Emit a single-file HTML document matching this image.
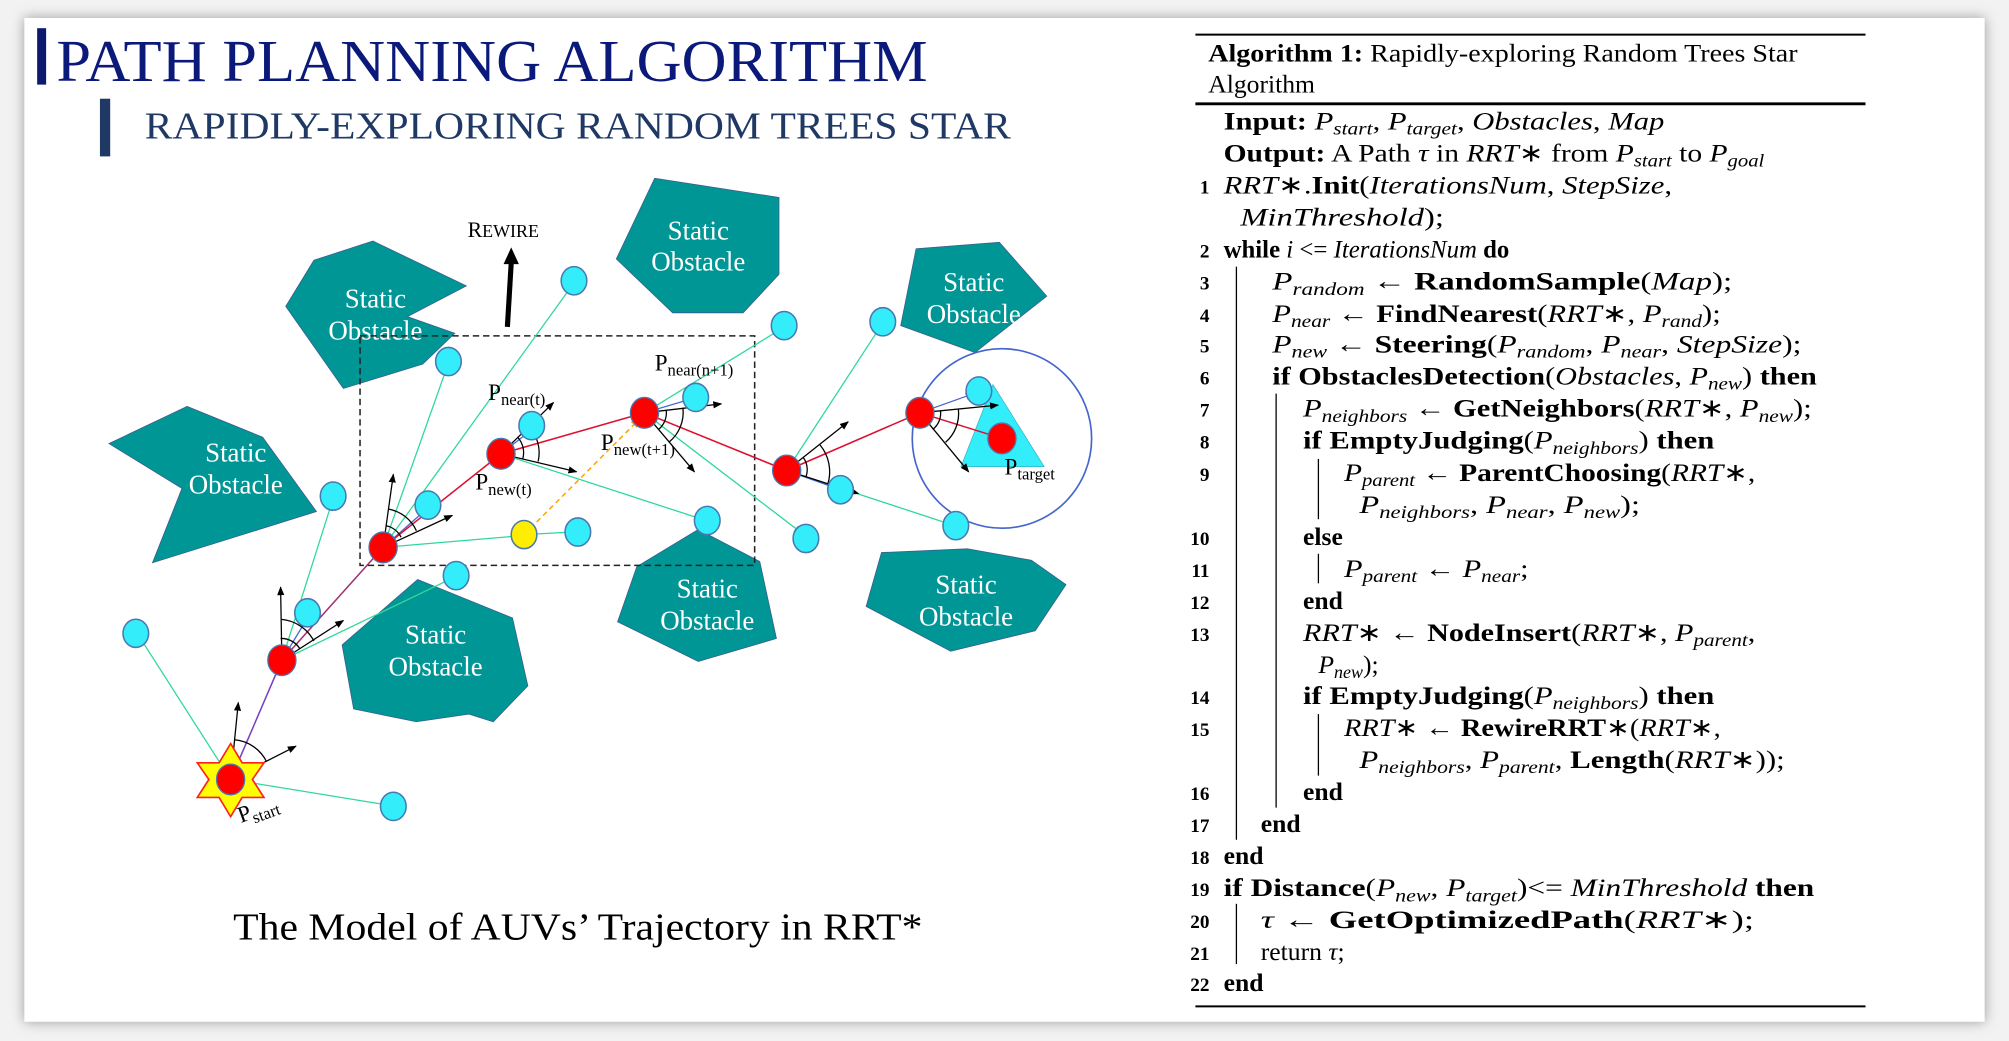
<!DOCTYPE html>
<html><head><meta charset="utf-8"><style>
html,body{margin:0;padding:0;background:#fff;}
svg{display:block;}
.t{font-family:"Liberation Serif",serif;}
.ob{font-family:"Liberation Serif",serif;fill:#fff;font-size:21px;text-anchor:middle;}
.alg{font-family:"Liberation Serif",serif;font-size:20px;fill:#000;}
.b{font-weight:bold;}
.i{font-style:italic;}
.n{font-weight:bold;font-size:15px;}
</style></head><body>
<svg width="2009" height="1041" viewBox="0 0 1568 812" preserveAspectRatio="none" xmlns="http://www.w3.org/2000/svg">
<defs>
<filter id="sh" x="-5%" y="-5%" width="110%" height="110%"><feGaussianBlur stdDeviation="5"/></filter>
<marker id="ag" viewBox="0 0 10 10" refX="9" refY="5" markerWidth="7" markerHeight="7" orient="auto"><path d="M0,1 L10,5 L0,9z" fill="#1fcf8a"/></marker>
<marker id="ab" viewBox="0 0 10 10" refX="9" refY="5" markerWidth="7" markerHeight="7" orient="auto"><path d="M0,1 L10,5 L0,9z" fill="#4466cc"/></marker>
<marker id="ak" viewBox="0 0 10 10" refX="9" refY="5" markerWidth="7" markerHeight="7" orient="auto"><path d="M0,1 L10,5 L0,9z" fill="#000"/></marker>
<marker id="ao" viewBox="0 0 10 10" refX="9" refY="5" markerWidth="7" markerHeight="7" orient="auto"><path d="M0,1 L10,5 L0,9z" fill="#ffa500"/></marker>
</defs>
<rect x="0" y="0" width="1568" height="812" fill="#f2f2f2"/>
<rect x="19" y="14" width="1530" height="783" fill="#9a9a9a" filter="url(#sh)"/>
<rect x="19" y="14" width="1530" height="783" fill="#fff"/>

<rect x="29" y="22" width="7" height="44" fill="#0b1a6e"/>
<text x="44" y="63" class="t" font-size="46" fill="#0b1a7a" textLength="680" lengthAdjust="spacingAndGlyphs">PATH PLANNING ALGORITHM</text>
<rect x="78" y="77" width="8" height="45" fill="#1f3864"/>
<text x="113" y="108" class="t" font-size="30" fill="#1f3864" textLength="676" lengthAdjust="spacingAndGlyphs">RAPIDLY-EXPLORING RANDOM TREES STAR</text>

<g fill="#009696" stroke="#3b5c8c" stroke-width="0.6">
<polygon points="291,188 364,223 318,247 355,260 330,284 268,303 223,239 245,203"/>
<polygon points="511,139 608,154 608,214 580,244 525,244 481,202"/>
<polygon points="715,194 780,189 817,231 761,275 703,254"/>
<polygon points="146,317 205,341 247,399 119,439 142,381 85,346"/>
<polygon points="545,413 593,438 606,498 545,516 482,485 497,442"/>
<polygon points="688,431 755,428 805,437 832,456 808,492 742,508 676,473"/>
<polygon points="326,452 400,482 412,535 385,563 366,557 325,563 276,553 267,503"/>
</g>
<g class="ob">
<text x="293" y="240">Static</text><text x="293" y="265">Obstacle</text>
<text x="545" y="187">Static</text><text x="545" y="211">Obstacle</text>
<text x="760" y="227">Static</text><text x="760" y="252">Obstacle</text>
<text x="184" y="360">Static</text><text x="184" y="385">Obstacle</text>
<text x="552" y="466">Static</text><text x="552" y="491">Obstacle</text>
<text x="754" y="463">Static</text><text x="754" y="488">Obstacle</text>
<text x="340" y="502">Static</text><text x="340" y="527">Obstacle</text>
</g>

<rect x="281" y="262" width="308" height="179" fill="none" stroke="#222" stroke-width="1.2" stroke-dasharray="5,3"/>

<circle cx="782" cy="342" r="70" fill="none" stroke="#4466cc" stroke-width="1.3"/>
<polygon points="775,300 815,364 750,364" fill="#33eefa" stroke="#3ab" stroke-width="0.5"/>

<g stroke="#2fd89a" stroke-width="1" fill="none" marker-end="url(#ag)">
<line x1="180" y1="608" x2="109" y2="497"/>
<line x1="180" y1="608" x2="303" y2="628"/>
<line x1="220" y1="515" x2="259" y2="392"/>
<line x1="220" y1="515" x2="353" y2="451"/>
<line x1="299" y1="427" x2="349" y2="286"/>
<line x1="299" y1="427" x2="447" y2="222"/>
<line x1="299" y1="427" x2="405" y2="418"/>
<line x1="409" y1="417" x2="447" y2="415"/>
<line x1="391" y1="354" x2="548" y2="405"/>
<line x1="503" y1="322" x2="609" y2="257"/>
<line x1="503" y1="322" x2="626" y2="416"/>
<line x1="614" y1="367" x2="687" y2="255"/>
<line x1="614" y1="367" x2="742" y2="409"/>
</g>
<g stroke="#4466cc" stroke-width="1" fill="none" marker-end="url(#ab)">
<line x1="220" y1="515" x2="240" y2="482"/>
<line x1="299" y1="427" x2="333" y2="397"/>
<line x1="391" y1="354" x2="414" y2="336"/>
<line x1="503" y1="322" x2="540" y2="311"/>
<line x1="614" y1="367" x2="653" y2="381"/>
<line x1="718" y1="322" x2="760" y2="307"/>
</g>
<g stroke-width="1.2" fill="none">
<line x1="180" y1="608" x2="220" y2="515" stroke="#7a3fbf"/>
<line x1="220" y1="515" x2="299" y2="427" stroke="#a03070"/>
<line x1="299" y1="427" x2="391" y2="354" stroke="#dd1030"/>
<line x1="391" y1="354" x2="503" y2="322" stroke="#dd1030"/>
<line x1="503" y1="322" x2="614" y2="367" stroke="#dd1030"/>
<line x1="614" y1="367" x2="718" y2="322" stroke="#dd1030"/>
<line x1="718" y1="322" x2="782" y2="342" stroke="#dd1030"/>
<line x1="409" y1="417" x2="500" y2="326" stroke="#ffa500" stroke-dasharray="4,3" marker-end="url(#ao)"/>
</g>

<g stroke="#000" stroke-width="1" fill="none">
<g marker-end="url(#ak)">
<line x1="180" y1="608" x2="186" y2="548"/><line x1="180" y1="608" x2="231" y2="582"/>
<line x1="220" y1="515" x2="219" y2="458"/><line x1="220" y1="515" x2="268" y2="484"/>
<line x1="299" y1="427" x2="307" y2="370"/><line x1="299" y1="427" x2="353" y2="402"/>
<line x1="391" y1="354" x2="432" y2="314"/><line x1="391" y1="354" x2="450" y2="368"/>
<line x1="503" y1="322" x2="563" y2="315"/><line x1="503" y1="322" x2="542" y2="368"/>
<line x1="614" y1="367" x2="662" y2="329"/><line x1="614" y1="367" x2="670" y2="385"/>
<line x1="718" y1="322" x2="779" y2="316"/><line x1="718" y1="322" x2="756" y2="368"/>
</g>
<path d="M183,577 A31,31 0 0 1 208,594"/><path d="M182,592 A16,16 0 0 1 193,600"/>
<path d="M219,483 A32,32 0 0 1 245,500"/><path d="M219,498 A17,17 0 0 1 234,506"/>
<path d="M303,397 A30,30 0 0 1 325,414"/><path d="M301,410 A17,17 0 0 1 313,419"/>
<path d="M413,333 A30,30 0 0 1 420,360"/><path d="M404,341 A18,18 0 0 1 408,358"/>
<path d="M533,318 A30,30 0 0 1 522,345"/><path d="M520,320 A17,17 0 0 1 514,335"/>
<path d="M640,347 A33,33 0 0 1 646,378"/><path d="M627,357 A16,16 0 0 1 629,372"/>
<path d="M748,319 A30,30 0 0 1 738,345"/><path d="M734,320 A16,16 0 0 1 728,335"/>
</g>

<polygon points="180,580 189,595 206,595 197,608 206,622 189,622 180,637 171,622 154,622 163,608 154,595 171,595" fill="#ffff00" stroke="#ff2020" stroke-width="1.3"/>

<g fill="#33eefa" stroke="#4a78b0" stroke-width="1.2">
<ellipse cx="106" cy="494" rx="10" ry="11"/>
<ellipse cx="307" cy="629" rx="10" ry="11"/>
<ellipse cx="240" cy="478" rx="10" ry="11"/>
<ellipse cx="356" cy="449" rx="10" ry="11"/>
<ellipse cx="260" cy="387" rx="10" ry="11"/>
<ellipse cx="334" cy="394" rx="10" ry="11"/>
<ellipse cx="350" cy="282" rx="10" ry="11"/>
<ellipse cx="448" cy="219" rx="10" ry="11"/>
<ellipse cx="415" cy="332" rx="10" ry="11"/>
<ellipse cx="451" cy="415" rx="10" ry="11"/>
<ellipse cx="552" cy="406" rx="10" ry="11"/>
<ellipse cx="629" cy="420" rx="10" ry="11"/>
<ellipse cx="612" cy="254" rx="10" ry="11"/>
<ellipse cx="689" cy="251" rx="10" ry="11"/>
<ellipse cx="543" cy="310" rx="10" ry="11"/>
<ellipse cx="656" cy="382" rx="10" ry="11"/>
<ellipse cx="746" cy="410" rx="10" ry="11"/>
<ellipse cx="764" cy="305" rx="10" ry="11"/>
</g>
<g fill="#ff0000" stroke="#4a78b0" stroke-width="1">
<ellipse cx="180" cy="608" rx="11" ry="12"/>
<ellipse cx="220" cy="515" rx="11" ry="12"/>
<ellipse cx="299" cy="427" rx="11" ry="12"/>
<ellipse cx="391" cy="354" rx="11" ry="12"/>
<ellipse cx="503" cy="322" rx="11" ry="12"/>
<ellipse cx="614" cy="367" rx="11" ry="12"/>
<ellipse cx="718" cy="322" rx="11" ry="12"/>
<ellipse cx="782" cy="342" rx="11" ry="12"/>
</g>
<ellipse cx="409" cy="417" rx="10" ry="11" fill="#ffee00" stroke="#4a78b0" stroke-width="1.2"/>

<text x="365" y="185" class="t" font-size="17" fill="#000">R<tspan font-size="14">EWIRE</tspan></text>
<line x1="396" y1="255" x2="399" y2="205" stroke="#000" stroke-width="4"/>
<polygon points="393,206 405,206 399,193" fill="#000"/>

<g class="t" fill="#000" font-size="18">
<text x="381" y="312">P<tspan font-size="13" dy="4">near(t)</tspan></text>
<text x="371" y="382">P<tspan font-size="13" dy="4">new(t)</tspan></text>
<text x="511" y="289">P<tspan font-size="13" dy="4">near(n+1)</tspan></text>
<text x="469" y="351">P<tspan font-size="13" dy="4">new(t+1)</tspan></text>
<text x="784" y="370">P<tspan font-size="13" dy="4">target</tspan></text>
<text x="188" y="642" transform="rotate(-20 188 642)">P<tspan font-size="13" dy="4">start</tspan></text>
</g>

<text x="182" y="733" class="t" font-size="30" fill="#000" textLength="538" lengthAdjust="spacingAndGlyphs">The Model of AUVs’ Trajectory in RRT*</text>

<line x1="933" y1="27" x2="1456" y2="27" stroke="#000" stroke-width="1.5"/>
<line x1="933" y1="81" x2="1456" y2="81" stroke="#000" stroke-width="2.2"/>
<line x1="933" y1="785" x2="1456" y2="785" stroke="#000" stroke-width="1.5"/>
<g stroke="#000" stroke-width="1">
<line x1="965" y1="208" x2="965" y2="655"/>
<line x1="996" y1="307" x2="996" y2="630"/>
<line x1="1029" y1="358" x2="1029" y2="405"/>
<line x1="1029" y1="432" x2="1029" y2="455"/>
<line x1="1029" y1="557" x2="1029" y2="605"/>
<line x1="965" y1="705" x2="965" y2="752"/>
</g>
<g class="alg">
<text x="943" y="48" textLength="460" lengthAdjust="spacingAndGlyphs"><tspan class="b">Algorithm 1:</tspan> Rapidly-exploring Random Trees Star</text>
<text x="943" y="72">Algorithm</text>
<text x="955" y="101" textLength="344" lengthAdjust="spacingAndGlyphs"><tspan class="b">Input:</tspan> <tspan class="i">P</tspan><tspan class="i" font-size="14" dy="4">start</tspan><tspan dy="-4">, </tspan><tspan class="i">P</tspan><tspan class="i" font-size="14" dy="4">target</tspan><tspan dy="-4">, </tspan><tspan class="i">Obstacles</tspan>, <tspan class="i">Map</tspan></text>
<text x="955" y="126" textLength="422" lengthAdjust="spacingAndGlyphs"><tspan class="b">Output:</tspan> A Path <tspan class="i">τ</tspan> in <tspan class="i">RRT</tspan>∗ from <tspan class="i">P</tspan><tspan class="i" font-size="14" dy="4">start</tspan><tspan dy="-4"> to </tspan><tspan class="i">P</tspan><tspan class="i" font-size="14" dy="4">goal</tspan></text>
<text x="955" y="151" textLength="350" lengthAdjust="spacingAndGlyphs"><tspan class="i">RRT</tspan>∗.<tspan class="b">Init</tspan>(<tspan class="i">IterationsNum</tspan>, <tspan class="i">StepSize</tspan>,</text>
<text x="968" y="176" textLength="159" lengthAdjust="spacingAndGlyphs"><tspan class="i">MinThreshold</tspan>);</text>
<text x="955" y="201" textLength="223" lengthAdjust="spacingAndGlyphs"><tspan class="b">while</tspan> <tspan class="i">i</tspan> &lt;= <tspan class="i">IterationsNum</tspan> <tspan class="b">do</tspan></text>
<text x="993" y="226" textLength="359" lengthAdjust="spacingAndGlyphs"><tspan class="i">P</tspan><tspan class="i" font-size="14" dy="4">random</tspan><tspan dy="-4"> ← </tspan><tspan class="b">RandomSample</tspan>(<tspan class="i">Map</tspan>);</text>
<text x="993" y="251" textLength="350" lengthAdjust="spacingAndGlyphs"><tspan class="i">P</tspan><tspan class="i" font-size="14" dy="4">near</tspan><tspan dy="-4"> ← </tspan><tspan class="b">FindNearest</tspan>(<tspan class="i">RRT</tspan>∗, <tspan class="i">P</tspan><tspan class="i" font-size="14" dy="4">rand</tspan><tspan dy="-4">);</tspan></text>
<text x="993" y="275" textLength="413" lengthAdjust="spacingAndGlyphs"><tspan class="i">P</tspan><tspan class="i" font-size="14" dy="4">new</tspan><tspan dy="-4"> ← </tspan><tspan class="b">Steering</tspan>(<tspan class="i">P</tspan><tspan class="i" font-size="14" dy="4">random</tspan><tspan dy="-4">, </tspan><tspan class="i">P</tspan><tspan class="i" font-size="14" dy="4">near</tspan><tspan dy="-4">, </tspan><tspan class="i">StepSize</tspan>);</text>
<text x="993" y="300" textLength="425" lengthAdjust="spacingAndGlyphs"><tspan class="b">if ObstaclesDetection</tspan>(<tspan class="i">Obstacles</tspan>, <tspan class="i">P</tspan><tspan class="i" font-size="14" dy="4">new</tspan><tspan dy="-4">) </tspan><tspan class="b">then</tspan></text>
<text x="1017" y="325" textLength="397" lengthAdjust="spacingAndGlyphs"><tspan class="i">P</tspan><tspan class="i" font-size="14" dy="4">neighbors</tspan><tspan dy="-4"> ← </tspan><tspan class="b">GetNeighbors</tspan>(<tspan class="i">RRT</tspan>∗, <tspan class="i">P</tspan><tspan class="i" font-size="14" dy="4">new</tspan><tspan dy="-4">);</tspan></text>
<text x="1017" y="350" textLength="321" lengthAdjust="spacingAndGlyphs"><tspan class="b">if EmptyJudging</tspan>(<tspan class="i">P</tspan><tspan class="i" font-size="14" dy="4">neighbors</tspan><tspan dy="-4">) </tspan><tspan class="b">then</tspan></text>
<text x="1049" y="375" textLength="321" lengthAdjust="spacingAndGlyphs"><tspan class="i">P</tspan><tspan class="i" font-size="14" dy="4">parent</tspan><tspan dy="-4"> ← </tspan><tspan class="b">ParentChoosing</tspan>(<tspan class="i">RRT</tspan>∗,</text>
<text x="1061" y="400" textLength="219" lengthAdjust="spacingAndGlyphs"><tspan class="i">P</tspan><tspan class="i" font-size="14" dy="4">neighbors</tspan><tspan dy="-4">, </tspan><tspan class="i">P</tspan><tspan class="i" font-size="14" dy="4">near</tspan><tspan dy="-4">, </tspan><tspan class="i">P</tspan><tspan class="i" font-size="14" dy="4">new</tspan><tspan dy="-4">);</tspan></text>
<text x="1017" y="425" class="b">else</text>
<text x="1049" y="450" textLength="144" lengthAdjust="spacingAndGlyphs"><tspan class="i">P</tspan><tspan class="i" font-size="14" dy="4">parent</tspan><tspan dy="-4"> ← </tspan><tspan class="i">P</tspan><tspan class="i" font-size="14" dy="4">near</tspan><tspan dy="-4">;</tspan></text>
<text x="1017" y="475" class="b">end</text>
<text x="1017" y="500" textLength="353" lengthAdjust="spacingAndGlyphs"><tspan class="i">RRT</tspan>∗ ← <tspan class="b">NodeInsert</tspan>(<tspan class="i">RRT</tspan>∗, <tspan class="i">P</tspan><tspan class="i" font-size="14" dy="4">parent</tspan><tspan dy="-4">,</tspan></text>
<text x="1029" y="525"><tspan class="i">P</tspan><tspan class="i" font-size="14" dy="4">new</tspan><tspan dy="-4">);</tspan></text>
<text x="1017" y="549" textLength="321" lengthAdjust="spacingAndGlyphs"><tspan class="b">if EmptyJudging</tspan>(<tspan class="i">P</tspan><tspan class="i" font-size="14" dy="4">neighbors</tspan><tspan dy="-4">) </tspan><tspan class="b">then</tspan></text>
<text x="1049" y="574" textLength="294" lengthAdjust="spacingAndGlyphs"><tspan class="i">RRT</tspan>∗ ← <tspan class="b">RewireRRT</tspan>∗(<tspan class="i">RRT</tspan>∗,</text>
<text x="1061" y="599" textLength="332" lengthAdjust="spacingAndGlyphs"><tspan class="i">P</tspan><tspan class="i" font-size="14" dy="4">neighbors</tspan><tspan dy="-4">, </tspan><tspan class="i">P</tspan><tspan class="i" font-size="14" dy="4">parent</tspan><tspan dy="-4">, </tspan><tspan class="b">Length</tspan>(<tspan class="i">RRT</tspan>∗));</text>
<text x="1017" y="624" class="b">end</text>
<text x="984" y="649" class="b">end</text>
<text x="955" y="674" class="b">end</text>
<text x="955" y="699" textLength="461" lengthAdjust="spacingAndGlyphs"><tspan class="b">if Distance</tspan>(<tspan class="i">P</tspan><tspan class="i" font-size="14" dy="4">new</tspan><tspan dy="-4">, </tspan><tspan class="i">P</tspan><tspan class="i" font-size="14" dy="4">target</tspan><tspan dy="-4">)&lt;= </tspan><tspan class="i">MinThreshold</tspan> <tspan class="b">then</tspan></text>
<text x="984" y="724" textLength="385" lengthAdjust="spacingAndGlyphs"><tspan class="i">τ</tspan> ← <tspan class="b">GetOptimizedPath</tspan>(<tspan class="i">RRT</tspan>∗);</text>
<text x="984" y="749">return <tspan class="i">τ</tspan>;</text>
<text x="955" y="773" class="b">end</text>
</g>
<g class="alg" text-anchor="end">
<text x="944" y="151" class="n">1</text>
<text x="944" y="201" class="n">2</text>
<text x="944" y="226" class="n">3</text>
<text x="944" y="251" class="n">4</text>
<text x="944" y="275" class="n">5</text>
<text x="944" y="300" class="n">6</text>
<text x="944" y="325" class="n">7</text>
<text x="944" y="350" class="n">8</text>
<text x="944" y="375" class="n">9</text>
<text x="944" y="425" class="n">10</text>
<text x="944" y="450" class="n">11</text>
<text x="944" y="475" class="n">12</text>
<text x="944" y="500" class="n">13</text>
<text x="944" y="549" class="n">14</text>
<text x="944" y="574" class="n">15</text>
<text x="944" y="624" class="n">16</text>
<text x="944" y="649" class="n">17</text>
<text x="944" y="674" class="n">18</text>
<text x="944" y="699" class="n">19</text>
<text x="944" y="724" class="n">20</text>
<text x="944" y="749" class="n">21</text>
<text x="944" y="773" class="n">22</text>
</g>
</svg>
</body></html>
